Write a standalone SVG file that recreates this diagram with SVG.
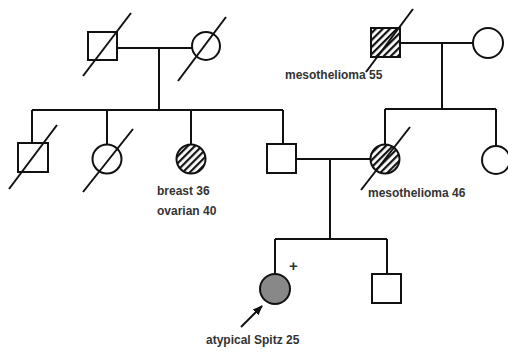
<svg xmlns="http://www.w3.org/2000/svg" width="508" height="354" viewBox="0 0 508 354">
<defs>
<pattern id="hatch" patternUnits="userSpaceOnUse" width="5" height="5" patternTransform="rotate(-45)">
<rect width="5" height="5" fill="#fff"/>
<rect width="5" height="2.2" fill="#111"/>
</pattern>
<marker id="arr" viewBox="0 0 10 10" refX="9" refY="5" markerWidth="5" markerHeight="5" orient="auto">
<path d="M0,1 L10,5 L0,9 z" fill="#111"/>
</marker>
</defs>
<style>
.sym{fill:#fff;stroke:#111;stroke-width:2}
.hat{fill:url(#hatch);stroke:#111;stroke-width:2}
.aff{fill:#888;stroke:#111;stroke-width:2}
.ln{fill:none;stroke:#111;stroke-width:2}
.dec{stroke:#111;stroke-width:2}
.lbl{font-family:"Liberation Sans",Arial,sans-serif;font-size:12px;font-weight:bold;fill:#333}
</style>
<g id="connectors">
<path class="ln" d="M117,48 H192 M159,48 V110 M32,110 H283 M32,110 V143 M107,110 V145 M191,110 V145 M283,110 V144"/>
<path class="ln" d="M400,43 H473 M442,43 V109 M385,109 H496 M385,109 V145 M496,109 V146"/>
<path class="ln" d="M296,159 H371 M330,159 V239 M275,239 H387 M275,239 V274 M387,239 V274"/>
<line class="dec" x1="241" y1="327" x2="262" y2="306" marker-end="url(#arr)"/>
</g>
<g id="gf"><rect class="sym" x="88" y="32" width="29" height="28"/><line class="dec" x1="83" y1="76" x2="131" y2="13"/></g>
<g id="gm"><circle class="sym" cx="206" cy="46" r="14"/><line class="dec" x1="178" y1="81" x2="226" y2="17"/></g>
<g id="mgf"><rect class="hat" x="371" y="28" width="29" height="29"/><line class="dec" x1="366" y1="72" x2="413" y2="9"/><text class="lbl" x="285" y="79">mesothelioma 55</text></g>
<g id="mgm"><circle class="sym" cx="488" cy="43" r="15"/></g>
<g id="u1"><rect class="sym" x="18" y="143" width="30" height="29"/><line class="dec" x1="9" y1="189" x2="57" y2="125"/></g>
<g id="a1"><circle class="sym" cx="107" cy="159" r="14.5"/><line class="dec" x1="83" y1="192" x2="133" y2="129"/></g>
<g id="a2"><circle class="hat" cx="191" cy="159" r="14.5"/><text class="lbl" x="157" y="195">breast 36</text><text class="lbl" x="157" y="215">ovarian 40</text></g>
<g id="father"><rect class="sym" x="267" y="144" width="29" height="29"/></g>
<g id="mother"><circle class="hat" cx="385" cy="159" r="14.5"/><line class="dec" x1="361" y1="190" x2="410" y2="127"/><text class="lbl" x="368" y="197">mesothelioma 46</text></g>
<g id="aunt"><circle class="sym" cx="496" cy="160" r="14"/></g>
<g id="proband"><circle class="aff" cx="275" cy="289" r="15"/><text class="lbl" x="289" y="271" style="font-size:15px">+</text><text class="lbl" x="206" y="344">atypical Spitz 25</text></g>
<g id="brother"><rect class="sym" x="372" y="274" width="29" height="29"/></g>
</svg>
